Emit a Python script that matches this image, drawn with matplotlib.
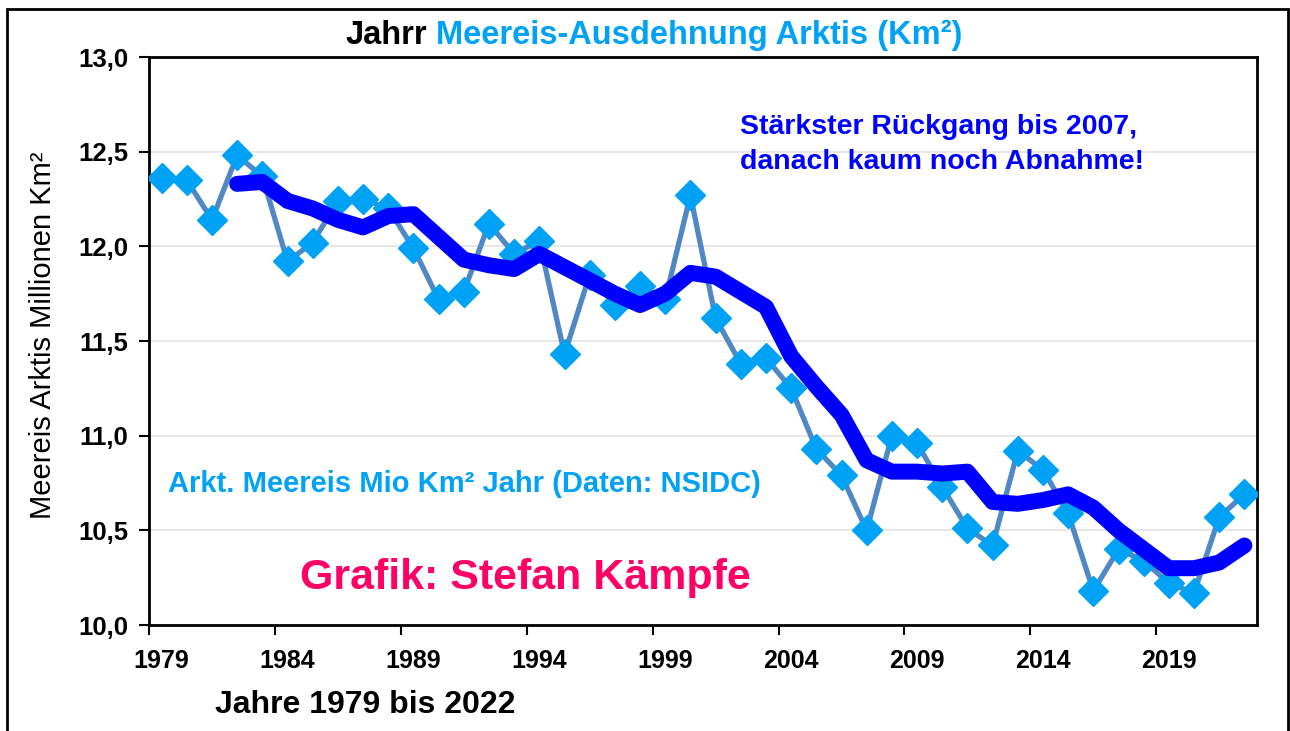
import matplotlib
matplotlib.use("Agg")
import matplotlib.pyplot as plt
from matplotlib.patches import Rectangle
import numpy as np

### Data ###

years = list(range(1979, 2023))
extent = [12.36, 12.35, 12.14, 12.48, 12.37, 11.92, 12.02, 12.24, 12.25, 12.20,
          11.99, 11.72, 11.76, 12.12, 11.96, 12.03, 11.43, 11.85, 11.69, 11.79,
          11.72, 12.27, 11.62, 11.38, 11.41, 11.25, 10.93, 10.79, 10.50, 11.00,
          10.96, 10.73, 10.51, 10.42, 10.92, 10.82, 10.59, 10.18, 10.40, 10.34,
          10.22, 10.17, 10.57, 10.69]
# smoothed trend line, starts 1982
trend_years = list(range(1982, 2023))
trend = [12.33, 12.34, 12.24, 12.20, 12.14, 12.10, 12.16, 12.17, 12.05, 11.93,
         11.90, 11.88, 11.96, 11.89, 11.82, 11.75, 11.69, 11.75, 11.86, 11.84,
         11.76, 11.68, 11.42, 11.26, 11.11, 10.87, 10.81, 10.81, 10.80, 10.81,
         10.65, 10.64, 10.66, 10.69, 10.62, 10.50, 10.40, 10.30, 10.30, 10.33,
         10.42]
tick_years = [1979, 1984, 1989, 1994, 1999, 2004, 2009, 2014, 2019]
y_ticks = [10.0, 10.5, 11.0, 11.5, 12.0, 12.5, 13.0]

### Plot ###

plt.rcParams['font.family'] = ['Liberation Sans', 'DejaVu Sans']

fig = plt.figure(figsize=(12.9, 7.31), dpi=100)
ax = fig.add_axes([149 / 1290, 1 - 625 / 731, 1108 / 1290, 568 / 731])

x = np.arange(len(years))
xt = np.array([years.index(y) for y in trend_years])

ax.plot(x, extent, color='#5088C4', lw=3.8, zorder=2)
ax.plot(x, extent, ls='none', marker='D', ms=15, color='#00A2F5', zorder=3)
ax.plot(xt, trend, color='#0000FF', lw=11.5, solid_joinstyle='round',
        solid_capstyle='round', zorder=4)

ax.set_xlim(-0.5, len(years) - 0.5)
ax.set_ylim(10.0, 13.0)

# category axis: tick marks between categories, labels on category centres
ax.set_xticks([years.index(y) - 0.5 for y in tick_years])
ax.set_xticklabels([])
ax.set_xticks([years.index(y) for y in tick_years], minor=True)
ax.set_xticklabels([str(y) for y in tick_years], minor=True,
                   fontsize=18, fontweight='bold')
ax.tick_params(axis='x', which='major', length=7, width=1.5, direction='out')
ax.tick_params(axis='x', which='minor', length=0, pad=17)

ax.set_yticks(y_ticks)
ax.set_yticklabels([f"{v:.1f}".replace('.', ',') for v in y_ticks],
                   fontsize=18.5, fontweight='bold')
ax.tick_params(axis='y', length=7, width=1.5, direction='out', pad=8)

ax.grid(axis='y', color='#e3e3e3', lw=1.2, zorder=0)
ax.set_axisbelow(True)
for s in ax.spines.values():
    s.set_linewidth(2)
    s.set_color('black')

ax.set_ylabel('Meereis Arktis Millionen Km²', fontsize=21)
ax.yaxis.set_label_coords(-0.083, 0.51)

# title in two colours
fig.text(427 / 1290, 1 - 35 / 731, 'Jahrr', ha='right', va='center',
         fontsize=23.5, fontweight='bold', color='black')
fig.text(436 / 1290, 1 - 35 / 731, 'Meereis-Ausdehnung Arktis (Km²)', ha='left',
         va='center', fontsize=23.5, fontweight='bold', color='#00A2F5')

fig.text(740 / 1290, 1 - 127 / 731, 'Stärkster Rückgang bis 2007,',
         ha='left', va='center', fontsize=20.5, fontweight='bold', color='#0000FF')
fig.text(740 / 1290, 1 - 162 / 731, 'danach kaum noch Abnahme!',
         ha='left', va='center', fontsize=20.5, fontweight='bold', color='#0000FF')
fig.text(168 / 1290, 1 - 484 / 731, 'Arkt. Meereis Mio Km² Jahr (Daten: NSIDC)',
         ha='left', va='center', fontsize=21, fontweight='bold', color='#00A2F5')
fig.text(300 / 1290, 1 - 578 / 731, 'Grafik: Stefan Kämpfe',
         ha='left', va='center', fontsize=31, fontweight='bold', color='#FF0066')
fig.text(215 / 1290, 1 - 705 / 731, 'Jahre 1979 bis 2022',
         ha='left', va='center', fontsize=23, fontweight='bold', color='black')

# outer chart frame
fig.patches.append(Rectangle((7 / 1290, -0.05), 1281 / 1290, 1.05 - 9 / 731,
                             transform=fig.transFigure, fill=False,
                             edgecolor='black', lw=2))

fig.savefig('out.png', dpi=100)
